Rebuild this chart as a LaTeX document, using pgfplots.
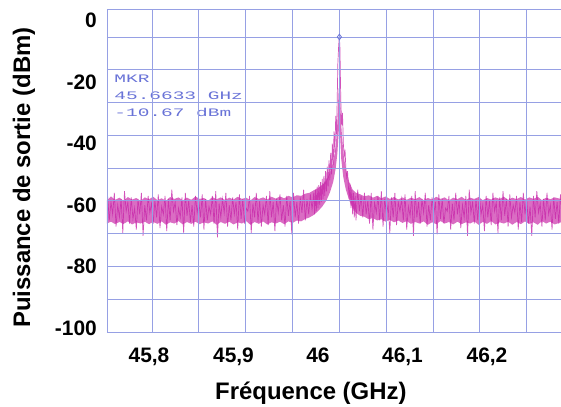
\documentclass[border=0pt]{standalone}
\usepackage{pgfplots}
\pgfplotsset{compat=1.18}
\usepackage{graphicx}
\usepackage{fontspec}
\setmainfont{Liberation Sans}
\newfontfamily\mkrfont{Liberation Mono}
\definecolor{trace}{RGB}{200,40,170}
\definecolor{bandc}{RGB}{205,60,175}
\definecolor{gridc}{RGB}{150,160,228}
\definecolor{mkrc}{RGB}{105,115,215}
\begin{document}
\begin{tikzpicture}
\begin{axis}[
  scale only axis,
  width=454bp, height=323bp,
  xmin=45.7503, xmax=46.2876,
  ymin=-101.28, ymax=3.77,
  axis on top,
  axis line style={draw=none},
  major tick length=0pt,
  xtick={45.8,45.9,46.0,46.1,46.2},
  xticklabels={{45,8},{45,9},46,{46,1},{46,2}},
  ytick={0,-20,-40,-60,-80,-100},
  yticklabels={0,-20,-40,-60,-80,-100},
  extra x ticks={45.7503,45.8036,45.8590,45.9145,45.9699,46.0253,46.0808,46.1362,46.1916,46.2470},
  extra x tick labels={},
  extra y ticks={3.77,-5.34,-16.0,-26.66,-37.32,-47.98,-58.64,-69.3,-79.96,-90.62,-101.28},
  extra y tick labels={},
  extra tick style={grid=major, major grid style={draw=gridc, line width=0.8bp}},
  xticklabel style={font=\bfseries\fontsize{21}{21}\selectfont, anchor=base, inner sep=0pt, yshift=-30bp},
  yticklabel style={font=\bfseries\fontsize{21}{21}\selectfont, anchor=east, inner sep=0pt, xshift=-10bp},
  xlabel={Fréquence (GHz)},
  ylabel={Puissance de sortie (dBm)},
  every axis x label/.style={at={(rel axis cs:0.449,-0.2105)}, anchor=base, font=\bfseries\fontsize{24}{24}\selectfont},
  every axis y label/.style={at={(rel axis cs:-0.1828,0.478)}, anchor=center, rotate=90, font=\bfseries\fontsize{24}{24}\selectfont},
]
% dense noise band (envelope of the trace)
\addplot[fill=bandc, draw=none, opacity=0.75] coordinates {
(45.7503,-58.5)(45.755,-57.2)(45.760,-58.3)(45.765,-57.6)(45.770,-58.6)(45.775,-57.4)(45.780,-58.2)(45.785,-57.7)
(45.790,-58.7)(45.795,-57.5)(45.800,-58.1)(45.805,-57.3)(45.810,-58.4)(45.815,-57.8)(45.820,-58.6)(45.825,-57.4)
(45.830,-58.0)(45.835,-57.5)(45.840,-58.5)(45.845,-57.6)(45.850,-58.3)(45.855,-57.2)(45.860,-58.0)(45.865,-57.7)
(45.870,-58.6)(45.875,-57.4)(45.880,-58.1)(45.885,-57.5)(45.890,-58.4)(45.895,-57.6)(45.900,-58.2)(45.905,-57.3)
(45.910,-58.0)(45.915,-57.6)(45.920,-58.5)(45.925,-57.4)(45.930,-58.0)(45.935,-57.5)(45.940,-58.2)(45.945,-57.3)
(45.950,-57.9)(45.955,-57.2)(45.960,-57.8)(45.965,-57.0)(45.970,-57.5)(45.975,-56.8)(45.980,-57.0)(45.985,-56.3)
(45.990,-56.0)(45.995,-55.2)(46.000,-54.5)(46.005,-53.5)(46.010,-52.0)(46.014,-49.5)(46.018,-46.0)(46.021,-41.0)
(46.023,-33.0)(46.0245,-22.0)(46.026,-24.0)(46.0275,-34.0)(46.030,-43.0)(46.033,-48.5)(46.037,-52.5)(46.041,-55.0)
(46.045,-56.0)(46.050,-56.5)(46.055,-57.2)(46.060,-56.8)(46.065,-57.6)(46.070,-57.0)(46.075,-57.8)(46.080,-57.2)
(46.085,-58.0)(46.090,-57.4)(46.095,-58.2)(46.100,-57.5)(46.105,-58.3)(46.110,-57.6)(46.115,-58.1)(46.120,-57.4)
(46.125,-58.4)(46.130,-57.7)(46.135,-58.2)(46.140,-57.3)(46.145,-58.0)(46.150,-57.5)(46.155,-58.5)(46.160,-57.6)
(46.165,-58.1)(46.170,-57.3)(46.175,-58.3)(46.180,-57.6)(46.185,-58.0)(46.190,-57.4)(46.195,-58.4)(46.200,-57.7)
(46.205,-58.2)(46.210,-57.5)(46.215,-58.0)(46.220,-57.3)(46.225,-58.3)(46.230,-57.6)(46.235,-58.1)(46.240,-57.4)
(46.245,-58.2)(46.250,-57.5)(46.255,-58.0)(46.260,-57.3)(46.265,-58.4)(46.270,-57.6)(46.275,-58.1)(46.280,-57.5)
(46.2876,-58.0)
(46.2876,-65.6)(46.280,-66.3)(46.275,-65.4)(46.270,-66.0)(46.265,-65.2)(46.260,-66.4)(46.255,-65.6)(46.250,-66.1)
(46.245,-65.3)(46.240,-66.2)(46.235,-65.5)(46.230,-66.4)(46.225,-65.4)(46.220,-66.0)(46.215,-65.6)(46.210,-66.3)
(46.205,-65.2)(46.200,-66.1)(46.195,-65.5)(46.190,-66.4)(46.185,-65.3)(46.180,-66.0)(46.175,-65.6)(46.170,-66.2)
(46.165,-65.4)(46.160,-66.3)(46.155,-65.5)(46.150,-66.0)(46.145,-65.2)(46.140,-66.2)(46.135,-65.6)(46.130,-66.4)
(46.125,-65.3)(46.120,-66.0)(46.115,-65.5)(46.110,-66.1)(46.105,-65.2)(46.100,-65.8)(46.095,-65.0)(46.090,-65.6)
(46.085,-64.8)(46.080,-65.4)(46.075,-64.6)(46.070,-65.0)(46.065,-64.2)(46.060,-64.6)(46.055,-63.8)(46.050,-63.5)
(46.045,-62.5)(46.041,-61.0)(46.037,-58.5)(46.033,-55.0)(46.030,-51.0)(46.0275,-45.0)(46.026,-36.0)(46.0245,-36.0)
(46.023,-43.0)(46.021,-48.0)(46.018,-52.5)(46.014,-56.0)(46.010,-58.5)(46.005,-60.5)(46.000,-62.0)(45.995,-63.2)
(45.990,-64.0)(45.985,-64.5)(45.980,-65.3)(45.975,-65.0)(45.970,-65.8)(45.965,-65.3)(45.960,-66.2)(45.955,-65.4)
(45.950,-66.0)(45.945,-65.6)(45.940,-66.3)(45.935,-65.3)(45.930,-66.1)(45.925,-65.5)(45.920,-66.4)(45.915,-65.2)
(45.910,-66.0)(45.905,-65.6)(45.900,-66.3)(45.895,-65.4)(45.890,-66.1)(45.885,-65.5)(45.880,-66.4)(45.875,-65.3)
(45.870,-66.0)(45.865,-65.6)(45.860,-66.2)(45.855,-65.4)(45.850,-66.1)(45.845,-65.5)(45.840,-66.3)(45.835,-65.2)
(45.830,-66.0)(45.825,-65.6)(45.820,-66.4)(45.815,-65.3)(45.810,-66.1)(45.805,-65.5)(45.800,-66.2)(45.795,-65.4)
(45.790,-66.0)(45.785,-65.6)(45.780,-66.3)(45.775,-65.3)(45.770,-66.1)(45.765,-65.5)(45.760,-66.2)(45.755,-65.4)
(45.7503,-66.0)
} -- cycle;
% trace
\addplot[trace, line width=0.7bp, opacity=0.8] coordinates {
(45.751,-57)(45.753,-65)(45.755,-59)(45.757,-63)(45.759,-56)(45.761,-67)(45.763,-60)(45.765,-64)
(45.767,-58)(45.769,-69)(45.771,-55.5)(45.773,-62)(45.775,-59)(45.777,-66)(45.779,-57.5)(45.781,-64.5)
(45.783,-61)(45.785,-68)(45.787,-58)(45.789,-63)(45.791,-56)(45.793,-70)(45.795,-60)(45.797,-65)
(45.799,-57)(45.801,-62.5)(45.803,-59.5)(45.805,-66)(45.807,-58.5)(45.809,-64)(45.811,-56.5)(45.813,-67.5)
(45.815,-60.5)(45.817,-63)(45.819,-57)(45.821,-68.5)(45.823,-58)(45.825,-65)(45.827,-55)(45.829,-62)
(45.831,-59)(45.833,-66.5)(45.835,-61)(45.837,-64)(45.839,-57.5)(45.841,-69)(45.843,-56)(45.845,-63.5)
(45.847,-58.5)(45.849,-65.5)(45.851,-60)(45.853,-67)(45.855,-57)(45.857,-62.5)(45.859,-59)(45.861,-64)
(45.863,-56.5)(45.865,-68)(45.867,-58)(45.869,-65)(45.871,-60.5)(45.873,-63)(45.875,-57)(45.877,-66)
(45.879,-55.5)(45.881,-70.5)(45.883,-59.5)(45.885,-64)(45.887,-58)(45.889,-62.5)(45.891,-56)(45.893,-67)
(45.895,-60)(45.897,-65)(45.899,-57.5)(45.901,-63)(45.903,-59)(45.905,-68)(45.907,-56.5)(45.909,-64.5)
(45.911,-58)(45.913,-66)(45.915,-61)(45.917,-62)(45.919,-57)(45.921,-69)(45.923,-59.5)(45.925,-64)
(45.927,-56)(45.929,-65.5)(45.931,-58.5)(45.933,-67)(45.935,-60)(45.937,-63)(45.939,-57)(45.941,-66.5)
(45.943,-55.5)(45.945,-64)(45.947,-59)(45.949,-68.5)(45.951,-58)(45.953,-62.5)(45.955,-56.5)(45.957,-65)
(45.959,-60)(45.961,-67)(45.963,-57)(45.965,-63.5)(45.967,-58.5)(45.969,-69.5)(45.971,-56)(45.973,-64)
(45.975,-59)(45.977,-66)(45.979,-57.5)(45.981,-62.5)(45.983,-55)(45.985,-65)(45.987,-58)(45.989,-63)
(45.991,-56.5)(45.993,-61.5)
(45.995,-56)(45.996,-63)(45.997,-55)(45.998,-62)(45.999,-54)(46.000,-61)(46.001,-53.5)(46.002,-60)
(46.003,-52.5)(46.004,-59)(46.005,-51.5)(46.006,-58)(46.007,-50.5)(46.008,-57)(46.009,-49)(46.010,-55.5)
(46.011,-47.5)(46.012,-54)(46.013,-45.5)(46.014,-52)(46.015,-43)(46.016,-50)(46.017,-40)(46.018,-47)
(46.019,-36)(46.020,-43)(46.021,-31)(46.022,-37)(46.023,-22)(46.0235,-14)(46.0245,-8)(46.0253,-5.34)
(46.026,-9)(46.0265,-18)(46.027,-26)(46.028,-34)(46.029,-30)(46.030,-40)(46.031,-44)(46.032,-42)
(46.033,-48)(46.034,-51)(46.035,-49)(46.036,-54)(46.037,-58)(46.038,-53)(46.039,-61)(46.040,-55)
(46.041,-63)(46.042,-56)(46.043,-64)(46.044,-57)(46.045,-65)
(46.047,-55)(46.049,-62)(46.051,-57)(46.053,-64)(46.055,-56)(46.057,-63)(46.059,-58.5)(46.061,-66)
(46.063,-56)(46.065,-68)(46.067,-59)(46.069,-62.5)(46.071,-57)(46.073,-65)(46.075,-55.5)(46.077,-67)
(46.079,-58)(46.081,-63)(46.083,-60)(46.085,-69)(46.087,-57.5)(46.089,-64)(46.091,-56)(46.093,-66.5)
(46.095,-59)(46.097,-62)(46.099,-58)(46.101,-65)(46.103,-56.5)(46.105,-68)(46.107,-60.5)(46.109,-63.5)
(46.111,-57)(46.113,-70)(46.115,-55.5)(46.117,-64)(46.119,-59)(46.121,-66)(46.123,-58)(46.125,-62.5)
(46.127,-56)(46.129,-67)(46.131,-60)(46.133,-65)(46.135,-57.5)(46.137,-63)(46.139,-59)(46.141,-69.5)
(46.143,-56.5)(46.145,-64.5)(46.147,-58)(46.149,-66)(46.151,-61)(46.153,-62)(46.155,-57)(46.157,-68)
(46.159,-59.5)(46.161,-65)(46.163,-56)(46.165,-63)(46.167,-58.5)(46.169,-67.5)(46.171,-60)(46.173,-64)
(46.175,-57)(46.177,-70)(46.179,-55)(46.181,-62.5)(46.183,-59)(46.185,-66)(46.187,-58)(46.189,-65)
(46.191,-56.5)(46.193,-63)(46.195,-60)(46.197,-68.5)(46.199,-57)(46.201,-64)(46.203,-58.5)(46.205,-66.5)
(46.207,-56)(46.209,-62)(46.211,-59)(46.213,-69)(46.215,-57.5)(46.217,-65)(46.219,-55.5)(46.221,-63.5)
(46.223,-58)(46.225,-67)(46.227,-56.5)(46.229,-64)(46.231,-60)(46.233,-62.5)(46.235,-57)(46.237,-68)
(46.239,-59)(46.241,-65.5)(46.243,-56)(46.245,-63)(46.247,-58)(46.249,-66)(46.251,-60.5)(46.253,-70)
(46.255,-57)(46.257,-64)(46.259,-55.5)(46.261,-62.5)(46.263,-59.5)(46.265,-67)(46.267,-58)(46.269,-65)
(46.271,-56)(46.273,-63)(46.275,-60)(46.277,-68)(46.279,-57.5)(46.281,-64.5)(46.283,-59)(46.285,-66)
(46.287,-56.5)(46.289,-63)
};
\addplot[mkrc, only marks, mark=diamond, mark size=2.8bp, mark options={line width=0.8bp, fill=white}] coordinates {(46.0253,-5.34)};
\node[anchor=north west, inner sep=0pt, text=mkrc, align=left, font=\mkrfont\fontsize{11.5}{17}\selectfont]
  at (axis cs:45.7588,-17.6) {\scalebox{1.7}[1]{MKR}\\\scalebox{1.7}[1]{45.6633 GHz}\\\scalebox{1.7}[1]{-10.67 dBm}};
\end{axis}
\pgfresetboundingbox
\path ([shift={(-107bp,-75bp)}]current axis.south west) rectangle ([shift={(0bp,9bp)}]current axis.north east);
\end{tikzpicture}
\end{document}
